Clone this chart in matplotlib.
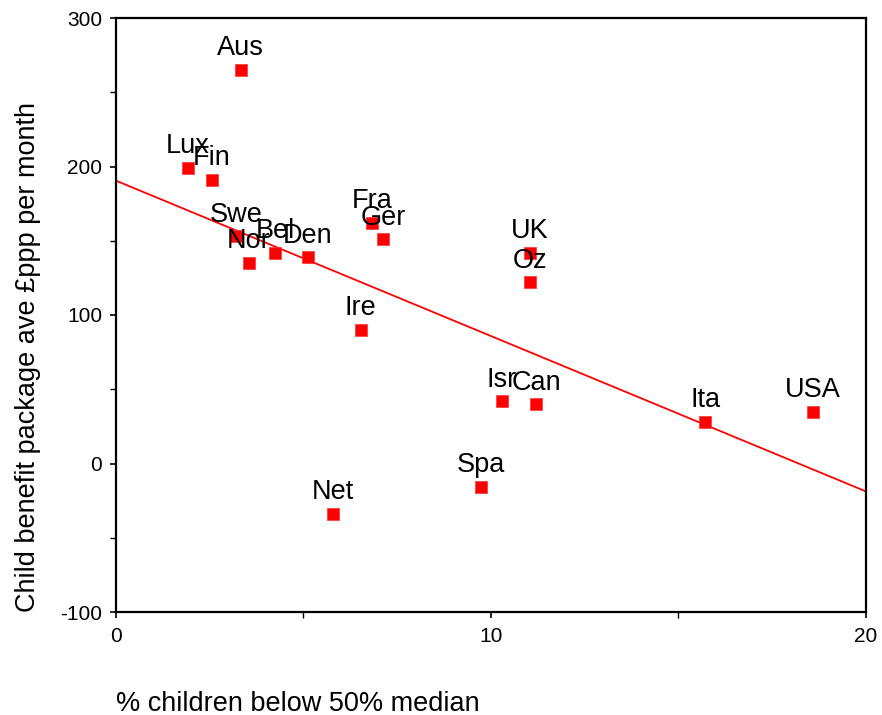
import numpy as np
import matplotlib.pyplot as plt
from matplotlib.ticker import MultipleLocator

# countries and values
paises = ['Aus', 'Lux', 'Fin', 'Swe', 'Nor', 'Bel', 'Den', 'Fra', 'Ger', 'Ire',
          'Net', 'Spa', 'Isr', 'Can', 'UK', 'Oz', 'Ita', 'USA']
pobreza = [3.33, 1.92, 2.56, 3.2, 3.55, 4.24, 5.12, 6.83, 7.12, 6.53,
           5.79, 9.73, 10.29, 11.2, 11.04, 11.04, 15.71, 18.59]
beneficio = [265, 199, 191, 153, 135, 142, 139, 162, 151, 90,
             -34, -15.5, 42, 40, 142, 122, 28, 35]

plt.rcParams['font.family'] = ['Liberation Sans', 'DejaVu Sans']
plt.rcParams['axes.unicode_minus'] = False

fig = plt.figure(figsize=(8.82, 7.15), dpi=100)
ax = fig.add_axes([116/882, 1-612/715, 750/882, 594/715])

# regression line
pend, corte = np.polyfit(pobreza, beneficio, 1)
xs = np.array([0, 20])
ax.plot(xs, corte + pend*xs, color='red', lw=1.3, zorder=2)

ax.scatter(pobreza, beneficio, marker='s', s=75, color='#ff0000', edgecolors='#ff3333',
           linewidths=0.5, zorder=3)
for p, x, y in zip(paises, pobreza, beneficio):
    ax.annotate(p, (x, y), xytext=(0, 10.5), textcoords='offset points',
                ha='center', va='baseline', fontsize=19.5, zorder=4)

ax.set_xlim(0, 20)
ax.set_ylim(-100, 300)
ax.xaxis.set_major_locator(MultipleLocator(10))
ax.xaxis.set_minor_locator(MultipleLocator(5))
ax.yaxis.set_major_locator(MultipleLocator(100))
ax.yaxis.set_minor_locator(MultipleLocator(50))
ax.tick_params(which='both', direction='out', length=4, width=1.2, labelsize=15)
ax.tick_params(axis='y', pad=6)
ax.tick_params(axis='x', pad=7)
ax.tick_params(which='minor', width=1)
for s in ax.spines.values():
    s.set_linewidth(1.6)

ax.set_xlabel('% children below 50% median', fontsize=19.5, loc='left', labelpad=32)
ax.set_ylabel('Child benefit package ave £ppp per month', fontsize=19.5, loc='bottom', labelpad=14)

fig.savefig('out.png', dpi=100)
